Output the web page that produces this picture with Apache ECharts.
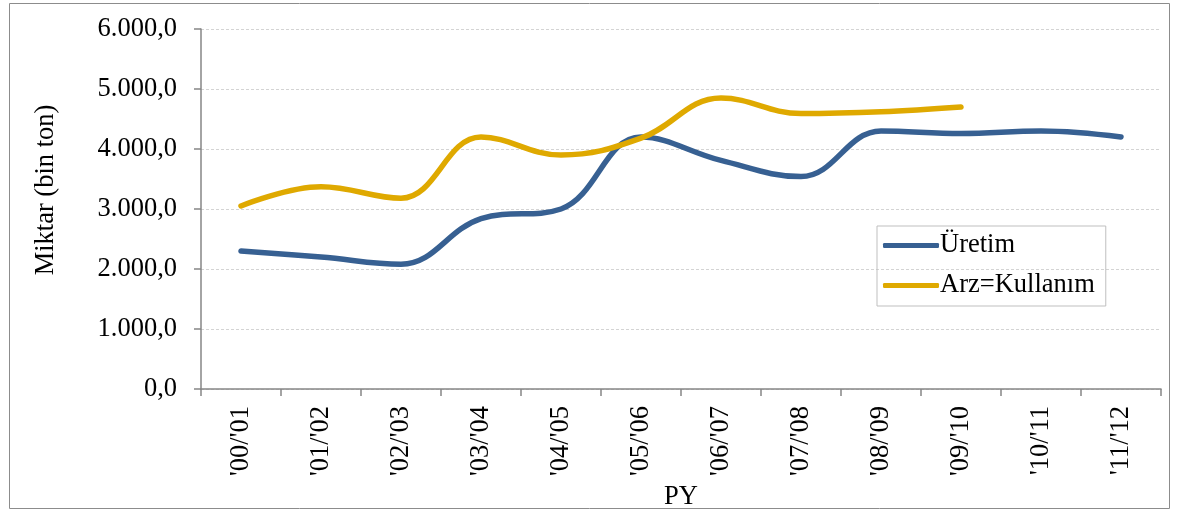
<!DOCTYPE html>
<html>
<head>
<meta charset="utf-8">
<script src="https://cdn.jsdelivr.net/npm/echarts@6/dist/echarts.min.js"></script>
<style>
  html, body { margin: 0; padding: 0; background: #fff; }
  #chart { width: 1180px; height: 512px; }
</style>
</head>
<body>
<div id="chart"></div>
<script>
// sezonlar (pazarlama yılı)
const categories = ["'00/'01", "'01/'02", "'02/'03", "'03/'04", "'04/'05", "'05/'06",
  "'06/'07", "'07/'08", "'08/'09", "'09/'10", "'10/'11", "'11/'12"];

// bin ton
const uretim = [2300, 2200, 2080, 2840, 3000, 4200, 3810, 3540, 4300, 4260, 4300, 4200];
const arzKullanim = [3050, 3370, 3180, 4200, 3900, 4180, 4850, 4590, 4620, 4700, null, null];

const yTicks = { min: 0, max: 6000, interval: 1000 };

const FONT = "'Liberation Serif', 'Times New Roman', serif";
const FS = 26.5;

// 6000 -> "6.000,0"
function trNumber(v) {
  const s = Math.round(v).toString().replace(/\B(?=(\d{3})+(?!\d))/g, ".");
  return s + ",0";
}

const chart = echarts.init(document.getElementById("chart"));

chart.setOption({
  animation: false,
  textStyle: { fontFamily: FONT, color: "#000" },
  graphic: [{
    type: "rect",
    shape: { x: 9.5, y: 3.5, width: 1160, height: 505 },
    style: { fill: "none", stroke: "#8c8c8c", lineWidth: 1 },
    silent: true
  }],
  grid: { left: 201, right: 19, top: 29, bottom: 123, outerBoundsMode: "none", containLabel: false },
  legend: {
    orient: "vertical",
    left: 877,
    top: 226,
    padding: [6, 11, 7, 6],
    itemGap: 13,
    itemWidth: 56,
    itemHeight: 5,
    icon: "roundRect",
    borderColor: "#bfbfbf",
    borderWidth: 1,
    textStyle: { fontFamily: FONT, fontSize: FS, color: "#000", padding: [0, 0, 0, -4] },
    data: ["Üretim", "Arz=Kullanım"]
  },
  xAxis: {
    type: "category",
    data: categories,
    boundaryGap: true,
    name: "PY",
    nameLocation: "middle",
    nameGap: 92,
    nameTextStyle: { fontFamily: FONT, fontSize: FS, color: "#000" },
    axisLine: { lineStyle: { color: "#868686", width: 1.5 } },
    axisTick: { show: true, length: 7, alignWithLabel: false, lineStyle: { color: "#868686", width: 1.5 } },
    axisLabel: { rotate: 90, margin: 17, fontFamily: FONT, fontSize: FS, color: "#000", interval: 0 },
    splitLine: { show: false }
  },
  yAxis: {
    type: "value",
    min: yTicks.min,
    max: yTicks.max,
    interval: yTicks.interval,
    name: "Miktar (bin ton)",
    nameLocation: "middle",
    nameGap: 141,
    nameTextStyle: { fontFamily: FONT, fontSize: FS, color: "#000", padding: [0, 0, 0, 38] },
    axisLine: { show: true, lineStyle: { color: "#868686", width: 1.5 } },
    axisTick: { show: true, length: 7, lineStyle: { color: "#868686", width: 1.5 } },
    axisLabel: { margin: 24, fontFamily: FONT, fontSize: FS, color: "#000", formatter: trNumber },
    splitLine: { show: true, lineStyle: { color: "#d4d4d4", type: [3, 2], width: 1 } }
  },
  series: [
    {
      name: "Üretim",
      type: "line",
      data: uretim,
      smooth: 0.4,
      showSymbol: false,
      symbol: "none",
      lineStyle: { color: "#376092", width: 5.5, cap: "round" },
      itemStyle: { color: "#376092" }
    },
    {
      name: "Arz=Kullanım",
      type: "line",
      data: arzKullanim,
      smooth: 0.4,
      showSymbol: false,
      symbol: "none",
      lineStyle: { color: "#dfa900", width: 5.5, cap: "round" },
      itemStyle: { color: "#dfa900" }
    }
  ]
});
</script>
</body>
</html>
